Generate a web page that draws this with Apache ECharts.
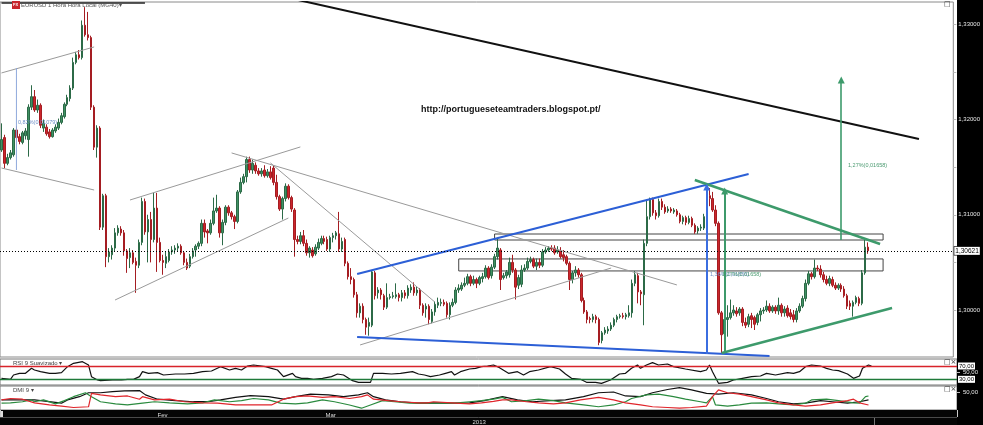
<!DOCTYPE html>
<html><head><meta charset="utf-8">
<script src="https://cdn.jsdelivr.net/npm/echarts@6/dist/echarts.min.js"></script>
<style>html,body{margin:0;padding:0;background:#fff}#c{width:983px;height:425px}</style>
</head><body><div id="c"></div>
<script>
// ---------- DATA ----------
// candles: [open, close, low, high]
const candlesA = [
[1.3168,1.3179,1.3166,1.3196],[1.3181,1.3154,1.3149,1.3184],[1.3154,1.3160,1.3152,1.3164],[1.3160,1.3165,1.3158,1.3168],
[1.3163,1.3189,1.3161,1.3191],[1.3189,1.3181,1.3179,1.3193],[1.3182,1.3177,1.3174,1.3185],[1.3176,1.3186,1.3174,1.3188],
[1.3183,1.3188,1.3179,1.3191],[1.3179,1.3213,1.3161,1.3216],[1.3213,1.3224,1.3210,1.3236],[1.3224,1.3210,1.3208,1.3231],
[1.3210,1.3215,1.3207,1.3221],[1.3215,1.3194,1.3191,1.3217],[1.3191,1.3196,1.3187,1.3200],[1.3192,1.3185,1.3183,1.3195],
[1.3187,1.3182,1.3180,1.3190],[1.3182,1.3189,1.3181,1.3191],[1.3188,1.3192,1.3186,1.3195],[1.3191,1.3197,1.3189,1.3201],
[1.3197,1.3204,1.3195,1.3207],[1.3203,1.3216,1.3201,1.3218],[1.3216,1.3223,1.3214,1.3226],[1.3222,1.3233,1.3219,1.3236],
[1.3233,1.3260,1.3231,1.3265],[1.3260,1.3268,1.3258,1.3271],[1.3268,1.3265,1.3263,1.3273],[1.3265,1.3299,1.3263,1.3304],
[1.3299,1.3289,1.3287,1.3318],[1.3289,1.3286,1.3283,1.3313],[1.3286,1.3213,1.3210,1.3288],[1.3213,1.3171,1.3168,1.3215],
[1.3171,1.3191,1.3160,1.3194],[1.3191,1.3087,1.3084,1.3193],[1.3087,1.3120,1.3084,1.3122],[1.3120,1.3056,1.3045,1.3122],
[1.3056,1.3061,1.3050,1.3065],[1.3058,1.3065,1.3053,1.3068],[1.3065,1.3081,1.3061,1.3086],[1.3081,1.3086,1.3078,1.3089],
[1.3085,1.3081,1.3078,1.3088],[1.3081,1.3062,1.3057,1.3084],[1.3062,1.3054,1.3039,1.3064],[1.3055,1.3060,1.3044,1.3065],
[1.3060,1.3050,1.3048,1.3063],[1.3051,1.3047,1.3018,1.3055],[1.3047,1.3071,1.3044,1.3074],[1.3071,1.3114,1.3068,1.3118],
[1.3114,1.3082,1.3079,1.3117],[1.3082,1.3095,1.3050,1.3100],[1.3095,1.3074,1.3050,1.3103],[1.3074,1.3107,1.3071,1.3123],
[1.3107,1.3071,1.3040,1.3123],[1.3071,1.3052,1.3050,1.3076],[1.3052,1.3050,1.3037,1.3058],[1.3049,1.3056,1.3044,1.3061],
[1.3052,1.3061,1.3050,1.3064],[1.3061,1.3063,1.3058,1.3067],[1.3063,1.3065,1.3059,1.3068],[1.3065,1.3067,1.3062,1.3070],
[1.3067,1.3060,1.3058,1.3069],[1.3060,1.3050,1.3047,1.3062],[1.3050,1.3044,1.3042,1.3054],[1.3046,1.3056,1.3044,1.3059],
[1.3056,1.3062,1.3054,1.3065],[1.3063,1.3067,1.3056,1.3069],[1.3067,1.3070,1.3064,1.3072],[1.3070,1.3091,1.3067,1.3095],
[1.3091,1.3082,1.3076,1.3095],[1.3083,1.3081,1.3070,1.3085],[1.3081,1.3091,1.3079,1.3095],[1.3091,1.3104,1.3089,1.3118],
[1.3104,1.3107,1.3102,1.3121],[1.3107,1.3081,1.3076,1.3109],[1.3081,1.3092,1.3068,1.3095],[1.3092,1.3108,1.3089,1.3110],
[1.3108,1.3102,1.3099,1.3110],[1.3102,1.3098,1.3095,1.3104],[1.3098,1.3093,1.3085,1.3100],[1.3093,1.3124,1.3091,1.3126],
[1.3124,1.3134,1.3122,1.3139],[1.3134,1.3140,1.3132,1.3143],[1.3140,1.3158,1.3134,1.3161],[1.3158,1.3147,1.3144,1.3161],
[1.3147,1.3154,1.3143,1.3158],[1.3152,1.3146,1.3143,1.3155],[1.3146,1.3143,1.3141,1.3149],[1.3143,1.3146,1.3140,1.3149],
[1.3147,1.3141,1.3139,1.3152],[1.3141,1.3145,1.3139,1.3148],[1.3145,1.3139,1.3137,1.3151],[1.3149,1.3134,1.3131,1.3152],
[1.3134,1.3119,1.3116,1.3142],[1.3119,1.3106,1.3104,1.3121],[1.3106,1.3117,1.3095,1.3119],[1.3117,1.3130,1.3114,1.3133],
[1.3130,1.3118,1.3116,1.3132],[1.3118,1.3106,1.3103,1.3120],[1.3105,1.3074,1.3056,1.3107],[1.3074,1.3072,1.3069,1.3078]
];
const candlesB = [
[1.3072,1.3078,1.3069,1.3082],[1.3078,1.3070,1.3067,1.3084],[1.3070,1.3060,1.3057,1.3074],[1.3060,1.3065,1.3055,1.3067],
[1.3063,1.3057,1.3055,1.3066],[1.3059,1.3066,1.3057,1.3069],[1.3065,1.3071,1.3063,1.3075],[1.3070,1.3075,1.3068,1.3078],
[1.3075,1.3072,1.3069,1.3078],[1.3074,1.3064,1.3062,1.3077],[1.3064,1.3076,1.3061,1.3078],[1.3076,1.3078,1.3071,1.3081],
[1.3078,1.3081,1.3074,1.3083],[1.3080,1.3064,1.3061,1.3103],[1.3064,1.3072,1.3061,1.3076],[1.3074,1.3049,1.3046,1.3076],
[1.3049,1.3035,1.3032,1.3051],[1.3035,1.3032,1.3027,1.3044],[1.3032,1.3016,1.3013,1.3034],[1.3016,1.2997,1.2992,1.3019],
[1.2997,1.3004,1.2992,1.3007],[1.3004,1.2990,1.2986,1.3007],[1.2990,1.2982,1.2974,1.2992],[1.2983,1.2987,1.2973,1.2992],
[1.2984,1.3040,1.2982,1.3042],[1.3039,1.3015,1.3011,1.3041],[1.3018,1.3021,1.3012,1.3024],[1.3021,1.3016,1.3011,1.3023],
[1.3015,1.3003,1.3000,1.3017],[1.3003,1.3013,1.3001,1.3028],[1.3013,1.3014,1.3011,1.3017],[1.3014,1.3015,1.3012,1.3019],
[1.3014,1.3016,1.3012,1.3028],[1.3016,1.3013,1.3009,1.3018],[1.3013,1.3018,1.3009,1.3021],[1.3018,1.3015,1.3012,1.3021],
[1.3015,1.3023,1.3012,1.3026],[1.3021,1.3024,1.3018,1.3027],[1.3024,1.3018,1.3015,1.3029],[1.3018,1.3021,1.3015,1.3025],
[1.3021,1.3005,1.3001,1.3023],[1.3005,1.2997,1.2994,1.3007],[1.3001,1.3004,1.2992,1.3007],[1.3004,1.2990,1.2985,1.3006],
[1.2988,1.2998,1.2986,1.3001],[1.2998,1.3006,1.2994,1.3009],[1.3005,1.3008,1.3002,1.3013],[1.3007,1.3008,1.3004,1.3012],
[1.3008,1.3006,1.3004,1.3011],[1.3007,1.2995,1.2992,1.3009],[1.2995,1.3005,1.2990,1.3008],[1.3005,1.3008,1.3003,1.3012],
[1.3008,1.3021,1.3006,1.3024],[1.3021,1.3023,1.3018,1.3027],[1.3022,1.3026,1.3020,1.3029],[1.3026,1.3028,1.3024,1.3034],
[1.3028,1.3035,1.3026,1.3038],[1.3035,1.3028,1.3025,1.3037],[1.3028,1.3032,1.3026,1.3036],[1.3032,1.3028,1.3023,1.3034],
[1.3028,1.3034,1.3026,1.3036],[1.3033,1.3035,1.3029,1.3039],[1.3035,1.3044,1.3033,1.3047],[1.3044,1.3034,1.3032,1.3046],
[1.3036,1.3045,1.3033,1.3048],[1.3045,1.3056,1.3043,1.3059],[1.3056,1.3065,1.3053,1.3076],[1.3063,1.3032,1.3021,1.3065],
[1.3034,1.3036,1.3032,1.3039],[1.3036,1.3040,1.3033,1.3042],[1.3037,1.3050,1.3034,1.3055],[1.3050,1.3042,1.3039,1.3058],
[1.3042,1.3024,1.3011,1.3044],[1.3026,1.3034,1.3022,1.3037],[1.3027,1.3042,1.3024,1.3047],[1.3042,1.3044,1.3040,1.3048],
[1.3044,1.3051,1.3042,1.3055],[1.3051,1.3053,1.3049,1.3056],[1.3053,1.3046,1.3044,1.3055],[1.3046,1.3050,1.3042,1.3054],
[1.3050,1.3047,1.3044,1.3054],[1.3047,1.3061,1.3045,1.3064],[1.3061,1.3063,1.3059,1.3066],[1.3063,1.3065,1.3061,1.3067],
[1.3065,1.3064,1.3062,1.3068],[1.3065,1.3060,1.3058,1.3068],[1.3061,1.3063,1.3059,1.3067],[1.3062,1.3056,1.3054,1.3066],
[1.3058,1.3055,1.3051,1.3063],[1.3056,1.3049,1.3047,1.3058],[1.3049,1.3032,1.3021,1.3051],[1.3032,1.3039,1.3028,1.3041],
[1.3039,1.3042,1.3035,1.3046],[1.3042,1.3037,1.3034,1.3044],[1.3037,1.3010,1.3008,1.3039],[1.3010,1.2998,1.2996,1.3013],
[1.2998,1.2990,1.2986,1.3000],[1.2991,1.2990,1.2986,1.2993],[1.2990,1.2993,1.2987,1.2996],[1.2993,1.2990,1.2986,1.2995]
];
const candlesC = [
[1.2990,1.2966,1.2963,1.2992],[1.2968,1.2976,1.2965,1.2978],[1.2976,1.2979,1.2974,1.2982],[1.2978,1.2980,1.2975,1.2983],
[1.2980,1.2984,1.2978,1.2987],[1.2984,1.2990,1.2982,1.2992],[1.2990,1.2993,1.2987,1.2995],[1.2993,1.2994,1.2991,1.2996],
[1.2994,1.2993,1.2991,1.2997],[1.2993,1.2995,1.2990,1.2997],[1.2994,1.2997,1.2992,1.3005],[1.2997,1.3028,1.2992,1.3032],
[1.3028,1.3037,1.3025,1.3041],[1.3036,1.3019,1.3007,1.3039],[1.3019,1.3017,1.3005,1.3021],[1.3016,1.3070,1.2984,1.3074],
[1.3070,1.3098,1.3067,1.3116],[1.3098,1.3116,1.3095,1.3118],[1.3116,1.3102,1.3099,1.3118],[1.3102,1.3099,1.3095,1.3105],
[1.3099,1.3114,1.3097,1.3117],[1.3114,1.3108,1.3105,1.3117],[1.3108,1.3103,1.3101,1.3111],[1.3104,1.3106,1.3102,1.3109],
[1.3106,1.3104,1.3102,1.3108],[1.3103,1.3105,1.3101,1.3107],[1.3104,1.3100,1.3098,1.3106],[1.3100,1.3093,1.3091,1.3102],
[1.3093,1.3097,1.3090,1.3099],[1.3097,1.3092,1.3089,1.3099],[1.3092,1.3096,1.3090,1.3099],[1.3096,1.3089,1.3087,1.3098],
[1.3089,1.3082,1.3080,1.3091],[1.3083,1.3086,1.3080,1.3088],[1.3086,1.3087,1.3083,1.3090],[1.3086,1.3098,1.3084,1.3101],
[1.3098,1.3120,1.3096,1.3128],[1.3120,1.3117,1.3109,1.3128],[1.3117,1.3105,1.3103,1.3124],[1.3105,1.3091,1.3088,1.3110],
[1.3091,1.2997,1.2995,1.3093],[1.2997,1.2974,1.2955,1.2999],[1.2975,1.2990,1.2955,1.2992],[1.2990,1.2992,1.2972,1.3005],
[1.2992,1.2997,1.2990,1.3011],[1.2997,1.3000,1.2994,1.3005],[1.2999,1.2996,1.2993,1.3003],[1.2997,1.3001,1.2994,1.3003],
[1.3001,1.2987,1.2983,1.3003],[1.2987,1.2984,1.2981,1.2992],[1.2985,1.2993,1.2982,1.2996],[1.2994,1.2990,1.2981,1.2997],
[1.2992,1.2985,1.2979,1.2994],[1.2987,1.2995,1.2984,1.2997],[1.2995,1.2999,1.2988,1.3002],[1.2999,1.3000,1.2996,1.3003],
[1.3000,1.3004,1.2998,1.3010],[1.3004,1.2999,1.2997,1.3007],[1.2999,1.3003,1.2997,1.3005],[1.3003,1.2999,1.2996,1.3005],
[1.2999,1.3005,1.2995,1.3013],[1.3005,1.2997,1.2993,1.3007],[1.2997,1.3001,1.2993,1.3004],[1.3002,1.2994,1.2992,1.3005],
[1.2997,1.2993,1.2990,1.3001],[1.2995,1.2990,1.2987,1.3000],[1.2990,1.2999,1.2987,1.3002],[1.2999,1.3004,1.2997,1.3007],
[1.3004,1.3012,1.3002,1.3015],[1.3012,1.3028,1.3009,1.3032],[1.3028,1.3038,1.3026,1.3041],[1.3038,1.3035,1.3032,1.3040],
[1.3035,1.3044,1.3033,1.3053],[1.3044,1.3043,1.3041,1.3047],[1.3043,1.3037,1.3034,1.3047],[1.3037,1.3032,1.3029,1.3040],
[1.3032,1.3028,1.3026,1.3036],[1.3028,1.3033,1.3025,1.3036],[1.3032,1.3026,1.3024,1.3035],[1.3026,1.3023,1.3021,1.3029],
[1.3023,1.3026,1.3021,1.3028],[1.3026,1.3022,1.3019,1.3028],[1.3022,1.3015,1.3013,1.3025],[1.3015,1.3004,1.3001,1.3017],
[1.3007,1.3004,1.3000,1.3010],[1.3004,1.3008,1.2993,1.3010],[1.3008,1.3013,1.3006,1.3015],[1.3012,1.3007,1.3004,1.3014],
[1.3007,1.3039,1.3005,1.3042],[1.3039,1.3066,1.3037,1.3074],[1.3066,1.30621,1.3059,1.3071]
];
const lastPrice = 1.30621;
const slotCount = 319;                       // candle slots incl. empty space on the right
const priceLabels = [1.30, 1.31, 1.32, 1.33];
const priceTicks = [1.295, 1.30, 1.305, 1.31, 1.315, 1.32, 1.325, 1.33];
const monthLabels = [['Fev', 52], ['Mar', 108]];
const yearLabels = [['2013', 157]];

// RSI 9 smoothed: [slot, value]
const rsiPoints = [[0,33],[3,30],[4,43],[6,48],[8,48],[10,63],[11,58],[13,53],[16,48],[18,48],[20,50],[22,68],[24,78],[27,83],[29,73],[30,38],[32,28],[33,26],[37,28],[40,28],[42,30],[44,30],[46,38],[47,53],[49,48],[52,50],[54,43],[58,46],[61,46],[64,48],[67,53],[70,55],[73,68],[76,58],[78,63],[80,58],[82,70],[84,73],[88,68],[90,63],[92,58],[94,38],[97,48],[98,38],[100,33],[102,33],[104,30],[107,33],[110,38],[112,46],[114,43],[117,26],[119,21],[121,21],[123,21],[124,48],[127,48],[130,46],[133,48],[137,53],[139,46],[141,43],[143,38],[146,43],[148,48],[150,53],[151,43],[153,53],[156,61],[158,63],[160,68],[162,70],[164,73],[166,65],[169,48],[172,53],[174,43],[176,53],[179,58],[183,68],[186,61],[188,46],[190,33],[193,30],[195,21],[198,21],[200,18],[203,28],[206,46],[208,48],[210,63],[212,73],[213,63],[215,73],[217,80],[219,73],[222,76],[224,68],[228,61],[233,53],[235,58],[236,73],[237,53],[239,18],[242,21],[244,28],[247,33],[250,38],[253,40],[255,48],[258,43],[262,50],[264,48],[266,53],[268,68],[270,73],[273,70],[275,63],[277,58],[279,56],[282,46],[284,33],[286,40],[287,63],[289,73],[290,70]];
const rsiLevels = [70, 30];
const rsiMid = [50];
// DMI 9: ADX, +DI, -DI  [slot, value]
const adxPoints = [[0,28],[11,28],[20,19],[22,28],[26,37],[29,48],[33,48],[37,51],[41,53],[46,54],[48,42],[52,30],[58,26],[64,23],[69,23],[73,28],[78,35],[83,40],[89,37],[94,30],[98,37],[103,44],[109,42],[114,37],[119,42],[122,48],[124,37],[128,28],[133,23],[139,19],[144,20],[150,19],[156,20],[161,26],[164,32],[167,37],[172,28],[177,23],[183,26],[188,28],[194,37],[199,48],[204,50],[208,39],[213,37],[217,48],[222,57],[226,62],[230,56],[235,46],[239,44],[244,48],[250,42],[255,32],[259,23],[264,17],[268,19],[273,26],[277,23],[282,19],[286,23],[289,28]];
const plusDiPoints = [[0,19],[3,20],[7,23],[10,28],[11,23],[14,28],[18,17],[21,26],[24,37],[28,48],[30,37],[33,23],[38,17],[42,14],[47,19],[51,23],[56,20],[62,17],[67,20],[71,28],[76,23],[80,26],[84,32],[89,28],[93,19],[98,17],[102,20],[107,28],[111,23],[116,14],[120,5],[123,14],[127,26],[131,23],[136,19],[140,20],[144,19],[151,19],[156,23],[160,26],[164,30],[167,35],[170,23],[175,26],[179,30],[184,26],[188,20],[194,14],[199,9],[204,14],[208,23],[210,32],[215,42],[219,44],[224,37],[228,30],[233,23],[235,20],[237,37],[238,14],[242,11],[246,14],[250,19],[255,20],[259,17],[264,14],[268,19],[270,28],[275,30],[279,26],[284,20],[286,19],[288,37],[289,39]];
const minusDiPoints = [[0,28],[3,32],[7,30],[11,20],[16,14],[20,11],[24,7],[29,9],[30,46],[33,42],[38,37],[42,39],[46,30],[47,37],[51,28],[56,30],[61,23],[67,20],[72,19],[78,14],[84,14],[90,14],[94,30],[98,37],[102,39],[107,35],[111,37],[116,32],[120,37],[122,42],[124,30],[129,26],[133,23],[139,20],[142,20],[144,23],[150,20],[156,17],[160,20],[164,24],[167,28],[170,28],[175,23],[179,20],[184,17],[188,20],[193,28],[199,35],[204,28],[208,20],[213,14],[217,9],[222,7],[226,5],[230,7],[235,11],[237,37],[239,56],[242,48],[246,44],[250,37],[255,28],[259,20],[264,14],[268,11],[273,14],[277,20],[282,26],[284,30],[286,20],[289,14]];
const dmiMid = [50];

// Drawn trend lines / annotations, endpoints in [slot, price]
const blackTrend   = [[95,1.33285],[307,1.31796]];
const blackTopLine = [[0,1.33224],[48,1.33224]];
const grayChan1Up  = [[0,1.32489],[31,1.32762]];
const grayChan1Low = [[0,1.31491],[31,1.31260]];
const blueThinVert = [[5,1.32541],[5,1.31470]];
const grayChan2Up  = [[43,1.31155],[100,1.31712]];
const grayChan2Low = [[38,1.30105],[96,1.30966]];
const grayLongDown = [[77,1.31649],[226,1.30263]];
const graySteep    = [[90,1.31544],[145,1.30084]];
const grayChan3Low = [[120,1.29633],[204,1.30441]];
const blueUpper    = [[119,1.30378],[250,1.31428]];
const blueLower    = [[119,1.29717],[257,1.29517]];
const blueArrow    = [[236,1.29538],[236,1.31292]];
const greenUpper   = [[232,1.31365],[294,1.30693]];
const greenLower   = [[241,1.29549],[298,1.30021]];
const greenArrow1  = [[242,1.29549],[242,1.31250]];
const greenArrow2  = [[281,1.30735],[281,1.32415]];
const zoneUpper    = [[165,1.30798],[295,1.30735]];
const zoneLower    = [[153,1.30536],[295,1.30410]];

// ---------- CHART ----------
const FONT = 'Liberation Sans';
const candles = candlesA.concat(candlesB, candlesC);
const cats = Array.from({length: slotCount}, (_, i) => 'c' + i);
const monthMap = Object.fromEntries(monthLabels.map(([t, i]) => [i, t]));
const yearMap = Object.fromEntries(yearLabels.map(([t, i]) => [i, t]));
const fmt5 = v => v.toFixed(5).replace('.', ',');
const fmt2 = v => v.toFixed(2).replace('.', ',');

const hiddenX = gi => ({type:'category', gridIndex:gi, data:cats, boundaryGap:true,
  axisLine:{show:false}, axisTick:{show:false}, axisLabel:{show:false}, splitLine:{show:false}});

function seg(pts, color, width, extra) {
  return Object.assign({type:'line', xAxisIndex:0, yAxisIndex:0, data:pts, symbol:'none',
    silent:true, z:3, lineStyle:{color:color, width:width}, animation:false}, extra || {});
}
function arrow(pts, color, width) {
  return {silent:true, symbol:['none','triangle'], symbolSize:7, precision:5, animation:false,
    itemStyle:{color:color}, label:{show:false}, lineStyle:{color:color, width:width, type:'solid'},
    data:[[{coord:pts[0]},{coord:pts[1]}]]};
}
const boxLabel = {show:true, position:'end', distance:1, color:'#000', backgroundColor:'#fff',
  borderColor:'#000', borderWidth:0.6, padding:[1,1,0,1], fontSize:6, fontFamily:FONT};

const option = {
  animation:false,
  backgroundColor:'#fff',
  grid:[
    {left:0, top:2, width:957, height:355, show:true, borderColor:'#8a8a8a', borderWidth:1, backgroundColor:'#fff'},
    {left:0, top:359, width:957, height:26, show:true, borderColor:'#777', borderWidth:1, backgroundColor:'#fff'},
    {left:0, top:386, width:957, height:24, show:true, borderColor:'#777', borderWidth:1, backgroundColor:'#fff'}
  ],
  xAxis:[
    hiddenX(0), hiddenX(1),
    {type:'category', gridIndex:2, data:cats, boundaryGap:true, position:'bottom', z:6,
      axisLine:{show:false},
      axisTick:{show:true, interval:(i) => i === monthLabels[1][1], length:7, lineStyle:{color:'#ccc'}},
      axisLabel:{show:true, interval:(i) => monthMap[i] !== undefined, formatter:(v, i) => monthMap[i] || '',
        color:'#ddd', fontSize:6, fontFamily:FONT, margin:2, align:'left'},
      splitLine:{show:false}},
    {type:'category', gridIndex:2, data:cats, boundaryGap:true, position:'bottom', offset:8, z:6,
      axisLine:{show:false}, axisTick:{show:false},
      axisLabel:{show:true, interval:(i) => yearMap[i] !== undefined, formatter:(v, i) => yearMap[i] || '',
        color:'#ddd', fontSize:6, fontFamily:FONT, margin:1, align:'left'},
      splitLine:{show:false}}
  ],
  yAxis:[
    {type:'value', gridIndex:0, position:'right', min:1.295065, max:1.33234, z:6,
      splitLine:{show:false}, axisLine:{show:false},
      axisTick:{show:true, customValues:priceTicks, length:3, lineStyle:{color:'#bbb'}},
      axisLabel:{customValues:priceLabels, formatter:fmt5, color:'#e6e6e6', fontSize:6, fontFamily:FONT, margin:5, hideOverlap:false}},
    {type:'value', gridIndex:1, position:'right', min:13, max:91, z:6,
      splitLine:{show:false}, axisLine:{show:false},
      axisTick:{show:true, customValues:rsiMid, length:3, lineStyle:{color:'#bbb'}},
      axisLabel:{customValues:rsiMid, formatter:fmt2, color:'#e6e6e6', fontSize:6, fontFamily:FONT, margin:6}},
    {type:'value', gridIndex:2, position:'right', min:0, max:66.7, z:6,
      splitLine:{show:false}, axisLine:{show:false},
      axisTick:{show:true, customValues:dmiMid, length:3, lineStyle:{color:'#bbb'}},
      axisLabel:{customValues:dmiMid, formatter:fmt2, color:'#e6e6e6', fontSize:6, fontFamily:FONT, margin:6}}
  ],
  series:[
    {type:'candlestick', xAxisIndex:0, yAxisIndex:0, data:candles, barWidth:2, z:2,
      itemStyle:{color:'#3f9163', color0:'#cc262c', borderColor:'#2c6a47', borderColor0:'#a51d22', borderWidth:1},
      markLine:{silent:true, symbol:['none','none'], precision:5, animation:false,
        lineStyle:{color:'#000', width:1, type:[1,2]},
        label:Object.assign({}, boxLabel, {fontSize:6.5, formatter:() => fmt5(lastPrice)}),
        data:[{yAxis:lastPrice}]},
      markArea:{silent:true, itemStyle:{color:'rgba(0,0,0,0)', borderColor:'#444', borderWidth:1},
        data:[[{coord:zoneUpper[0]},{coord:zoneUpper[1]}],[{coord:zoneLower[0]},{coord:zoneLower[1]}]]}},
    seg(blackTrend, '#111', 2),
    seg(blackTopLine, '#222', 1.6),
    seg(grayChan1Up, '#9a9a9a', 1),
    seg(grayChan1Low, '#9a9a9a', 1),
    seg(blueThinVert, '#8fa9dc', 1),
    seg(grayChan2Up, '#9a9a9a', 1),
    seg(grayChan2Low, '#9a9a9a', 1),
    seg(grayLongDown, '#9a9a9a', 1),
    seg(graySteep, '#9a9a9a', 1),
    seg(grayChan3Low, '#9a9a9a', 1),
    seg(blueUpper, '#2c5fd6', 2, {markLine:arrow(blueArrow, '#3b6ee0', 2)}),
    seg(blueLower, '#2c5fd6', 2),
    seg(greenUpper, '#3d9a6b', 2.5, {markLine:arrow(greenArrow1, '#3d9a6b', 2)}),
    seg(greenLower, '#3d9a6b', 2.5, {markLine:arrow(greenArrow2, '#3d9a6b', 1.6)}),
    {type:'line', xAxisIndex:1, yAxisIndex:1, data:rsiPoints, symbol:'none', silent:true, z:3,
      lineStyle:{color:'#111', width:1.2},
      markLine:{silent:true, symbol:['none','none'], animation:false,
        data:[
          {yAxis:rsiLevels[0], lineStyle:{color:'#d8232a', width:1.3, type:'solid'}, label:Object.assign({}, boxLabel, {formatter:() => fmt2(rsiLevels[0])})},
          {yAxis:rsiLevels[1], lineStyle:{color:'#1f7a3a', width:1.3, type:'solid'}, label:Object.assign({}, boxLabel, {formatter:() => fmt2(rsiLevels[1])})}
        ]}},
    {type:'line', xAxisIndex:2, yAxisIndex:2, data:adxPoints, symbol:'none', silent:true, z:3, lineStyle:{color:'#111', width:1.2}},
    {type:'line', xAxisIndex:2, yAxisIndex:2, data:plusDiPoints, symbol:'none', silent:true, z:3, lineStyle:{color:'#2a8a3e', width:1.2}},
    {type:'line', xAxisIndex:2, yAxisIndex:2, data:minusDiPoints, symbol:'none', silent:true, z:3, lineStyle:{color:'#e0252b', width:1.2}}
  ],
  graphic:{elements:[
    {type:'rect', z:0, silent:true, shape:{x:957, y:0, width:26, height:425}, style:{fill:'#000'}},
    {type:'rect', z:0, silent:true, shape:{x:0, y:410, width:957, height:15}, style:{fill:'#050505'}},
    {type:'line', z:1, silent:true, shape:{x1:0, y1:417.5, x2:957, y2:417.5}, style:{stroke:'#4a4a4a', lineWidth:1}},
    {type:'rect', z:1, silent:true, shape:{x:0, y:411, width:3, height:6}, style:{fill:'#ddd'}},
    {type:'line', z:1, silent:true, shape:{x1:874.5, y1:418, x2:874.5, y2:425}, style:{stroke:'#777', lineWidth:1}},
    {type:'rect', z:4, silent:true, shape:{x:12, y:1, width:8, height:8}, style:{fill:'#c8262c'}},
    {type:'text', z:5, silent:true, style:{x:13, y:2.5, text:'FX', fill:'#fff', font:'bold 4px "Liberation Sans"'}},
    {type:'text', z:5, silent:true, style:{x:21, y:2, text:'EURUSD 1 Hora Hora Local (MG40)\u25BE', fill:'#555', font:'6px "Liberation Sans"'}},
    {type:'text', z:5, silent:true, style:{x:944, y:1, text:'\u25A1', fill:'#333', font:'7px "DejaVu Sans"'}},
    {type:'text', z:5, silent:true, style:{x:13, y:360, text:'RSI 9 Suavizado \u25BE', fill:'#444', font:'6px "Liberation Sans"'}},
    {type:'text', z:5, silent:true, style:{x:13, y:387, text:'DMI 9 \u25BE', fill:'#444', font:'6px "Liberation Sans"'}},
    {type:'text', z:5, silent:true, style:{x:944, y:359, text:'\u25A1\u00D7', fill:'#333', font:'7px "DejaVu Sans"'}},
    {type:'text', z:5, silent:true, style:{x:944, y:386, text:'\u25A1\u00D7', fill:'#333', font:'7px "DejaVu Sans"'}},
    {type:'text', z:5, silent:true, style:{x:421, y:105, text:'http://portugueseteamtraders.blogspot.pt/', fill:'#111', font:'bold 9px "Liberation Sans"'}},
    {type:'text', z:5, silent:true, style:{x:18, y:119, text:'0,82%(0,01079)', fill:'#6f8fc8', font:'5.5px "Liberation Sans"'}},
    {type:'text', z:5, silent:true, style:{x:848, y:162, text:'1,27%(0,01658)', fill:'#4a9a70', font:'5.5px "Liberation Sans"'}},
    {type:'text', z:5, silent:true, style:{x:710, y:271, text:'1,36%(0,01856)', fill:'#6f8fc8', font:'5.5px "Liberation Sans"'}},
    {type:'text', z:5, silent:true, style:{x:722, y:271, text:'1,27%(0,01658)', fill:'#4a9a70', font:'5.5px "Liberation Sans"'}}
  ]}
};
const chart = echarts.init(document.getElementById('c'), null, {renderer:'canvas', width:983, height:425});
chart.setOption(option);
</script>
</body></html>
